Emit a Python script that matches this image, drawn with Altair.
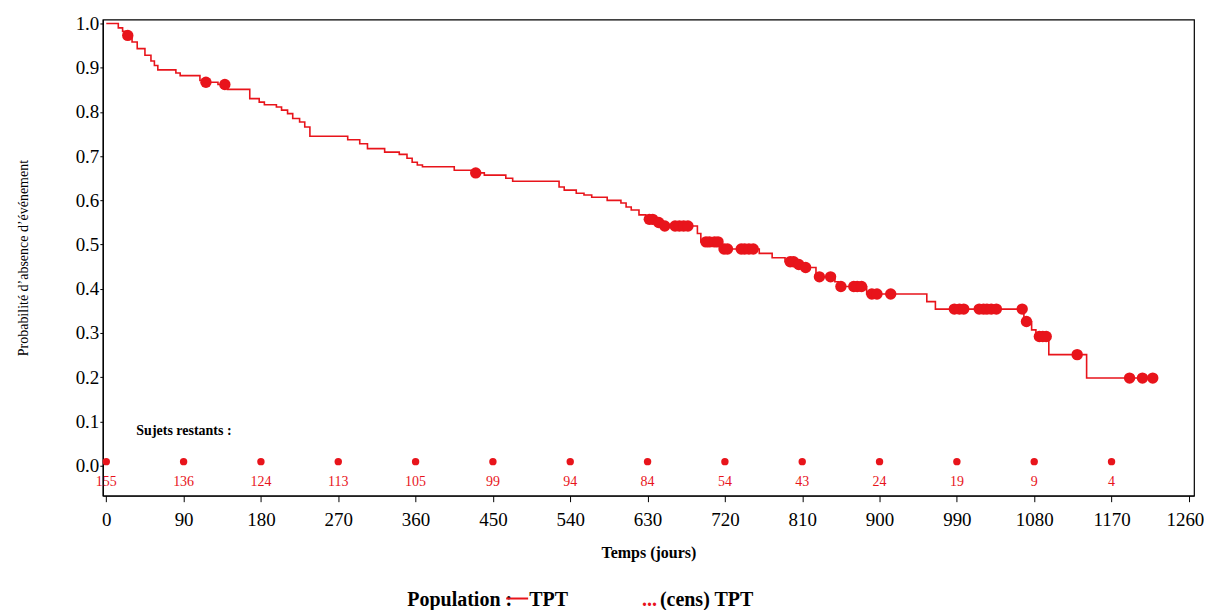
import altair as alt
import pandas as pd

RED = "#e8141b"
SERIF = "Liberation Serif"

# Kaplan-Meier step curve (day, survival probability)
curve_days = [0, 14, 19, 23, 30, 36, 45, 52, 56, 60, 81, 86, 109, 114, 130, 141, 167, 178, 184,
              198, 204, 211, 217, 225, 231, 237, 281, 295, 304, 324, 341, 350, 356, 362, 368,
              405, 425, 440, 465, 473, 527, 533, 547, 556, 565, 583, 599, 605, 611, 620, 628,
              640, 648, 688, 692, 716, 760, 775, 790, 803, 812, 826, 848, 852, 885, 955, 965,
              1068, 1077, 1082, 1097, 1141, 1218]
curve_surv = [1.0, 0.99, 0.982, 0.973, 0.958, 0.943, 0.928, 0.915, 0.905, 0.895, 0.888, 0.882,
              0.871, 0.867, 0.862, 0.851, 0.830, 0.822, 0.816, 0.811, 0.804, 0.796, 0.785, 0.777,
              0.766, 0.745, 0.737, 0.728, 0.717, 0.709, 0.704, 0.695, 0.686, 0.680, 0.676, 0.668,
              0.662, 0.657, 0.650, 0.643, 0.630, 0.623, 0.616, 0.612, 0.607, 0.600, 0.594, 0.585,
              0.578, 0.567, 0.557, 0.550, 0.542, 0.525, 0.506, 0.490, 0.480, 0.470, 0.461, 0.455,
              0.448, 0.427, 0.416, 0.405, 0.388, 0.371, 0.354, 0.326, 0.307, 0.292, 0.251, 0.198,
              0.198]

# Censored observations
cens_days = [25, 116, 138, 430, 632, 636, 643, 650, 662, 667, 672, 677, 698, 702, 708, 712, 719,
             723, 739, 743, 748, 753, 796, 800, 806, 814, 830, 843, 855, 870, 874, 879, 891, 897,
             913, 987, 993, 998, 1016, 1021, 1025, 1030, 1036, 1066, 1071, 1086, 1090, 1094, 1130,
             1191, 1206, 1218]
cens_surv = [0.973, 0.867, 0.862, 0.662, 0.557, 0.557, 0.550, 0.542, 0.542, 0.542, 0.542, 0.542,
             0.506, 0.506, 0.506, 0.506, 0.490, 0.490, 0.490, 0.490, 0.490, 0.490, 0.461, 0.461,
             0.455, 0.448, 0.427, 0.427, 0.405, 0.405, 0.405, 0.405, 0.388, 0.388, 0.388, 0.354,
             0.354, 0.354, 0.354, 0.354, 0.354, 0.354, 0.354, 0.354, 0.326, 0.292, 0.292, 0.292,
             0.251, 0.198, 0.198, 0.198]

# Number at risk
risk_days = [0, 90, 180, 270, 360, 450, 540, 630, 720, 810, 900, 990, 1080, 1170]
risk_counts = [155, 136, 124, 113, 105, 99, 94, 84, 54, 43, 24, 19, 9, 4]
risk_dot_level = 0.009
risk_text_level = -0.036

x_ticks = list(range(0, 1261, 90))
y_ticks = [0.0, 0.1, 0.2, 0.3, 0.4, 0.5, 0.6, 0.7, 0.8, 0.9, 1.0]

curve_df = pd.DataFrame({"t": curve_days, "s": curve_surv})
cens_df = pd.DataFrame({"t": cens_days, "s": cens_surv})
risk_df = pd.DataFrame({"t": risk_days, "n": risk_counts,
                        "yd": [risk_dot_level] * len(risk_days),
                        "yt": [risk_text_level] * len(risk_days)})
note_df = pd.DataFrame({"t": [35], "s": [0.079], "label": ["Sujets restants :"]})

W, H = 1093, 477
xs = alt.Scale(domain=[-4, 1266], nice=False, zero=False)
ys = alt.Scale(domain=[-0.068, 1.009], nice=False, zero=False)

x_enc = alt.X("t:Q", scale=xs,
              axis=alt.Axis(values=x_ticks, format="d", title="Temps (jours)", grid=False,
                            tickSize=6, labelPadding=9, titlePadding=15,
                            labelAlign={"expr": "datum.value >= 1260 ? 'right' : 'center'"},
                            labelOffset={"expr": "datum.value >= 1260 ? 15 : 0"},
                            titleFontWeight="bold", titleFontSize=16))
y_enc = alt.Y("s:Q", scale=ys,
              axis=alt.Axis(values=y_ticks, format=".1f", title="Probabilité d’absence d’événement",
                            grid=False, tickSize=3, labelPadding=1, titlePadding=45,
                            titleFontWeight="normal", titleFontSize=14))

line = alt.Chart(curve_df).mark_line(interpolate="step-after", color=RED, strokeWidth=1.6).encode(
    x=x_enc, y=y_enc)
cens = alt.Chart(cens_df).mark_circle(size=130, color=RED, opacity=1).encode(x="t:Q", y="s:Q")
rdots = alt.Chart(risk_df).mark_circle(size=55, color=RED, opacity=1).encode(x="t:Q", y="yd:Q")
rtext = alt.Chart(risk_df).mark_text(color=RED, font=SERIF, fontSize=14, baseline="middle").encode(
    x="t:Q", y="yt:Q", text="n:Q")
note = alt.Chart(note_df).mark_text(font=SERIF, fontSize=14, fontWeight="bold", align="left",
                                    baseline="middle", color="black").encode(
    x="t:Q", y="s:Q", text="label:N")

# Legend drawn below the plot
LY = 581
FS = 20
leg_pop = alt.Chart(note_df).mark_text(font=SERIF, fontSize=FS, fontWeight="bold", align="left",
                                       baseline="middle", color="black", text="Population :").encode(
    x=alt.value(305), y=alt.value(LY))
leg_line = alt.Chart(note_df).mark_rule(color=RED, strokeWidth=2).encode(
    x=alt.value(404), x2=alt.value(426), y=alt.value(LY - 1))
leg_tpt = alt.Chart(note_df).mark_text(font=SERIF, fontSize=FS, fontWeight="bold", align="left",
                                       baseline="middle", color="black", text="TPT").encode(
    x=alt.value(427), y=alt.value(LY))
leg_dots = alt.Chart(note_df).mark_text(font=SERIF, fontSize=FS, fontWeight="bold", align="left",
                                        baseline="middle", color=RED, text="...").encode(
    x=alt.value(540), y=alt.value(LY))
leg_cens = alt.Chart(note_df).mark_text(font=SERIF, fontSize=FS, fontWeight="bold", align="left",
                                        baseline="middle", color="black", text="(cens) TPT").encode(
    x=alt.value(558), y=alt.value(LY))

chart = alt.layer(line, cens, rdots, rtext, note, leg_pop, leg_line, leg_tpt, leg_dots, leg_cens).properties(
    width=W, height=H,
    background="white",
    autosize=alt.AutoSizeParams(type="none"),
    padding={"left": 95, "top": 11, "right": 10, "bottom": 114},
).configure_view(stroke="black", strokeWidth=1.2).configure_axis(
    labelFont=SERIF, titleFont=SERIF, labelFontSize=19, labelColor="black", titleColor="black",
    domainColor="black", tickColor="black", domainWidth=1.2,
)

chart.save("out.html", embed_options={"renderer": "svg", "actions": False})
